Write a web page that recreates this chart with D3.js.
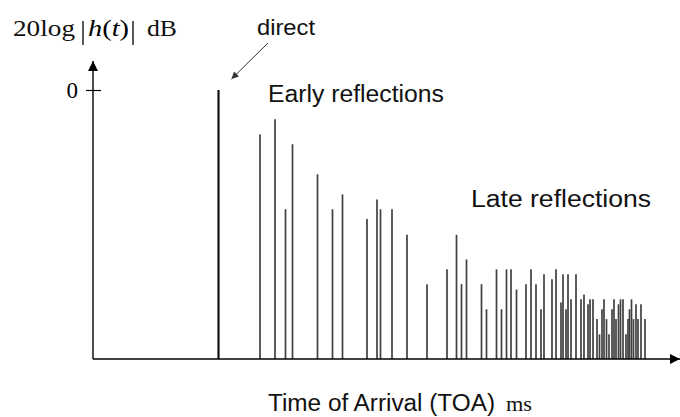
<!DOCTYPE html>
<html><head><meta charset="utf-8">
<script src="https://cdn.jsdelivr.net/npm/d3@7"></script>
<style>body{margin:0;background:#fff}svg{display:block}</style>
</head><body><svg id="c" width="680" height="417"></svg>
<script>
// ---- data (time in ms, level in dB relative to direct sound) ----
const directTimes = [25.1];
const directLevels = [0];
const reflTimes = [33.4,36.4,38.5,39.9,44.9,47.9,49.9,54.8,56.8,57.5,59.8,62.8,66.8,70.8,72.7,73.7,74.7,77.7,78.7,80.7,81.7,82.7,83.6,84.7,86.6,87.6,88.6,89.6,90.2,91.8,92.6,93.6,94.0,94.6,95.0,95.6,96.6,97.6,98.2,99.0,99.4,100.0,100.8,101.3,101.8,102.2,102.7,103.2,103.8,104.2,104.6,105.1,105.5,106.0,106.6,107.0,107.3,107.7,108.1,108.6,109.0,109.6,110.4];
const reflLevels = [-9.9,-6.5,-26.6,-12.1,-18.8,-26.6,-23.3,-28.8,-24.4,-26.6,-26.6,-32.3,-43.3,-40.0,-32.3,-43.3,-37.8,-43.3,-48.9,-40.0,-48.9,-40.0,-40.0,-44.5,-43.3,-40.0,-43.3,-48.9,-41.1,-42.2,-40.0,-47.4,-41.1,-48.9,-41.1,-46.7,-41.1,-46.7,-45.6,-47.8,-46.7,-46.7,-51.1,-54.5,-48.9,-46.7,-51.1,-54.5,-48.9,-46.7,-51.1,-47.8,-46.7,-46.7,-54.5,-51.1,-48.9,-46.7,-51.1,-47.8,-51.1,-47.8,-51.1];
const yTickValues = [0];
const yTickLabels = ["0"];
const xTitle = "Time of Arrival (TOA)";
const xUnit = "ms";
const annDirect = "direct";
const annEarly = "Early reflections";
const annLate = "Late reflections";

const svg = d3.select("#c");
svg.append("rect").attr("width",680).attr("height",417).attr("fill","#fff");

const x = d3.scaleLinear().domain([0,117]).range([93,678]);
const y = d3.scaleLinear().domain([-60,0]).range([359,90]);

const defs = svg.append("defs");
defs.append("marker").attr("id","ah").attr("viewBox","0 0 10 10").attr("refX",10).attr("refY",5)
  .attr("markerWidth",15).attr("markerHeight",10).attr("markerUnits","userSpaceOnUse").attr("orient","auto")
  .append("path").attr("d","M0,0L10,5L0,10Z").attr("fill","#000");
defs.append("marker").attr("id","ahs").attr("viewBox","0 0 10 10").attr("refX",10).attr("refY",5)
  .attr("markerWidth",9).attr("markerHeight",7).attr("markerUnits","userSpaceOnUse").attr("orient","auto")
  .append("path").attr("d","M0,0L10,5L0,10Z").attr("fill","#333");

// reflections
const refl = reflTimes.map((t,i)=>({t, v: reflLevels[i]}));
svg.append("g").selectAll("line").data(refl).join("line")
  .attr("x1",d=>x(d.t)).attr("x2",d=>x(d.t))
  .attr("y1",y(-60)).attr("y2",d=>y(d.v))
  .attr("stroke","#404040").attr("stroke-width",1.7);

// direct sound
const dir = directTimes.map((t,i)=>({t, v: directLevels[i]}));
svg.append("g").selectAll("line").data(dir).join("line")
  .attr("x1",d=>x(d.t)).attr("x2",d=>x(d.t))
  .attr("y1",y(-60)).attr("y2",d=>y(d.v))
  .attr("stroke","#111").attr("stroke-width",2.2);

// axes
const x0 = x(0), yb = y(-60);
svg.append("line").attr("x1",x0).attr("x2",680).attr("y1",yb).attr("y2",yb)
  .attr("stroke","#000").attr("stroke-width",1.4).attr("marker-end","url(#ah)");
svg.append("line").attr("x1",x0).attr("x2",x0).attr("y1",yb).attr("y2",61)
  .attr("stroke","#000").attr("stroke-width",1.4).attr("marker-end","url(#ah)");

const yAxis = d3.axisLeft(y).tickValues(yTickValues).tickFormat((d,i)=>yTickLabels[i]).tickSizeOuter(0).tickSizeInner(7).tickPadding(8);
const ga = svg.append("g").attr("transform",`translate(${x0},0)`).call(yAxis);
ga.select(".domain").remove();
ga.selectAll(".tick line").attr("x1",-7).attr("x2",8).attr("stroke","#000").attr("stroke-width",1.2);
ga.selectAll(".tick text").attr("font-family","Liberation Serif, serif").attr("font-size",23).attr("fill","#000");

// y label: 20log|h(t)| dB
const serif = "Liberation Serif, serif";
function txt(xp, yp, s, fam, size, len){
  const t = svg.append("text").attr("x",xp).attr("y",yp).attr("font-family",fam).attr("font-size",size).attr("fill","#111").text(s);
  if(len) t.attr("textLength",len).attr("lengthAdjust","spacingAndGlyphs");
  return t;
}
txt(13,36,"20log",serif,23,62);
svg.append("line").attr("x1",83).attr("x2",83).attr("y1",21).attr("y2",45).attr("stroke","#000").attr("stroke-width",1.3);
const hl = svg.append("text").attr("x",88).attr("y",36).attr("font-family",serif).attr("font-size",23).attr("fill","#000")
  .attr("textLength",41).attr("lengthAdjust","spacingAndGlyphs");
hl.append("tspan").attr("font-style","italic").text("h");
hl.append("tspan").text("(");
hl.append("tspan").attr("font-style","italic").text("t");
hl.append("tspan").text(")");
svg.append("line").attr("x1",133).attr("x2",133).attr("y1",21).attr("y2",45).attr("stroke","#000").attr("stroke-width",1.3);
txt(147,36,"dB",serif,23,30);

// annotations
const sans = "Liberation Sans, Arial, sans-serif";
txt(257,35,annDirect,sans,22,58);
svg.append("line").attr("x1",268).attr("y1",43).attr("x2",x(directTimes[0])+13).attr("y2",79)
  .attr("stroke","#333").attr("stroke-width",1).attr("marker-end","url(#ahs)");
txt(268,102,annEarly,sans,23,176);
txt(471,207,annLate,sans,23,180);
txt(268,411,xTitle,sans,23,227);
txt(506,411,xUnit,serif,22,26);
</script></body></html>
